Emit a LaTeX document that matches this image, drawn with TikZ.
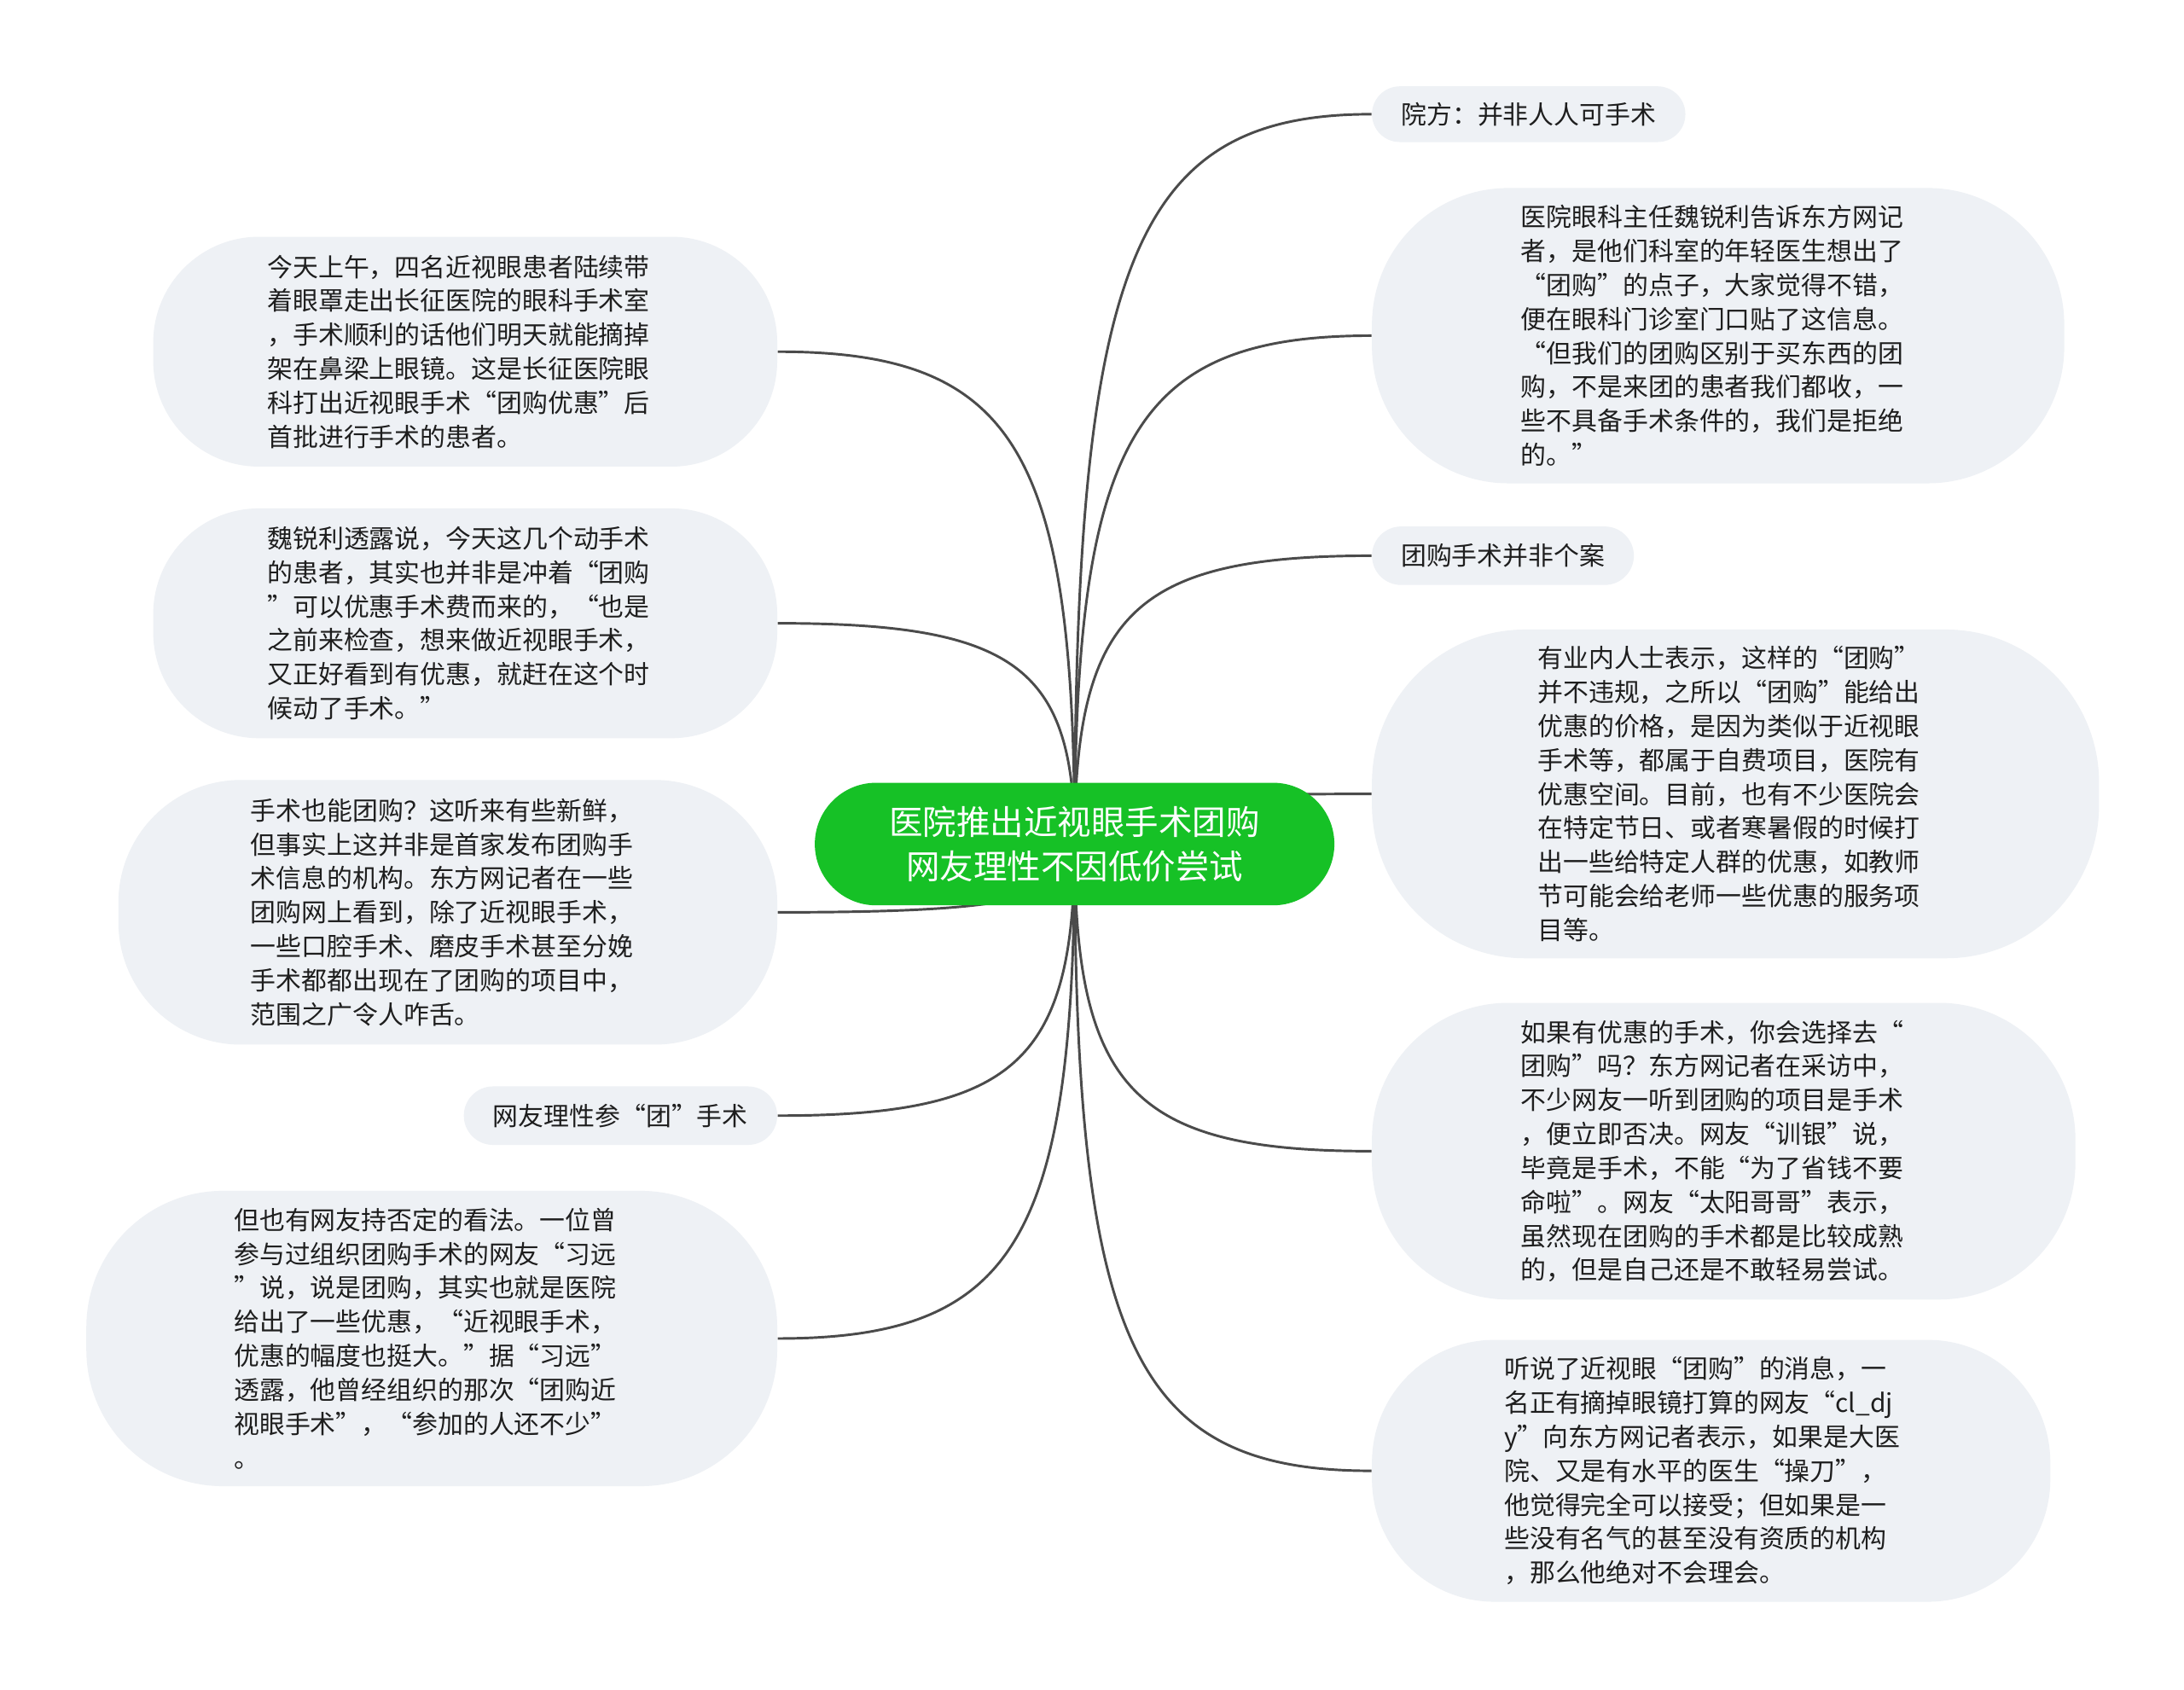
\documentclass[tikz,border=0pt]{standalone}
\usepackage{fontspec}
\newfontfamily\cjk{Noto Sans CJK SC}
\usetikzlibrary{calc}
\pgfdeclarelayer{bg}
\pgfdeclarelayer{paper}
\pgfsetlayers{paper,bg,main}
\definecolor{nodefill}{RGB}{238,241,245}
\definecolor{rootgreen}{RGB}{22,193,38}
\definecolor{linegray}{RGB}{75,75,75}
\definecolor{txt}{RGB}{30,30,30}
\begin{document}
\begin{tikzpicture}[x=0.5pt,y=-0.5pt,
  leaf/.style={fill=nodefill, draw=none, inner sep=0pt, text=txt, align=left,
    font=\cjk\fontsize{9.15}{12.2}\selectfont},
  bigleaf/.style n args={5}{leaf, minimum width=#1, minimum height=#2,
    rounded corners=#3, inner xsep=#4, text width=#5},
  rootbox/.style={fill=rootgreen, draw=none, inner sep=0pt, text=white, align=center,
    font=\cjk\fontsize{12.1}{16}\selectfont, rounded corners=22pt,
    minimum width=186.5pt, minimum height=44pt},
  conn/.style={draw=linegray, line width=0.9pt}
]
\begin{pgfonlayer}{paper}
\fill[white] (0,0) rectangle (1568,1213);
\end{pgfonlayer}
\useasboundingbox (0,0) rectangle (1568,1213);

\node[rootbox] (root) at (771.5,606) {医院推出近视眼手术团购\\网友理性不因低价尝试};

\node[bigleaf={224pt}{82.5pt}{38pt}{41pt}{142pt}] (l1) at (334,252.5)
{今天上午，四名近视眼患者陆续带\\着眼罩走出长征医院的眼科手术室\\，手术顺利的话他们明天就能摘掉\\架在鼻梁上眼镜。这是长征医院眼\\科打出近视眼手术“团购优惠”后\\首批进行手术的患者。};

\node[bigleaf={224pt}{82.5pt}{38pt}{41pt}{142pt}] (l2) at (334,447.5)
{魏锐利透露说，今天这几个动手术\\的患者，其实也并非是冲着“团购\\”可以优惠手术费而来的，“也是\\之前来检查，想来做近视眼手术，\\又正好看到有优惠，就赶在这个时\\候动了手术。”};

\node[bigleaf={236.5pt}{95pt}{44pt}{47.5pt}{141.5pt}] (l3) at (321.5,655)
{手术也能团购？这听来有些新鲜，\\但事实上这并非是首家发布团购手\\术信息的机构。东方网记者在一些\\团购网上看到，除了近视眼手术，\\一些口腔手术、磨皮手术甚至分娩\\手术都都出现在了团购的项目中，\\范围之广令人咋舌。};

\node[leaf, minimum width=112.5pt, minimum height=21pt, rounded corners=10.5pt] (l4) at (445.5,801)
{网友理性参“团”手术};

\node[bigleaf={248pt}{106pt}{49pt}{53pt}{142pt}] (l5) at (310,961)
{但也有网友持否定的看法。一位曾\\参与过组织团购手术的网友“习远\\”说，说是团购，其实也就是医院\\给出了一些优惠，“近视眼手术，\\优惠的幅度也挺大。”据“习远”\\透露，他曾经组织的那次“团购近\\视眼手术”，“参加的人还不少”\\。};

\node[leaf, minimum width=112.5pt, minimum height=20pt, rounded corners=10pt] (r1) at (1097.5,82)
{院方：并非人人可手术};

\node[bigleaf={248.5pt}{106pt}{49pt}{53.5pt}{141.5pt}] (r2) at (1233.5,241)
{医院眼科主任魏锐利告诉东方网记\\者，是他们科室的年轻医生想出了\\“团购”的点子，大家觉得不错，\\便在眼科门诊室门口贴了这信息。\\“但我们的团购区别于买东西的团\\购，不是来团的患者我们都收，一\\些不具备手术条件的，我们是拒绝\\的。”};

\node[leaf, minimum width=94pt, minimum height=21pt, rounded corners=10.5pt] (r3) at (1079,399)
{团购手术并非个案};

\node[bigleaf={261pt}{118pt}{55pt}{59.5pt}{142pt}] (r4) at (1246,570)
{有业内人士表示，这样的“团购”\\并不违规，之所以“团购”能给出\\优惠的价格，是因为类似于近视眼\\手术等，都属于自费项目，医院有\\优惠空间。目前，也有不少医院会\\在特定节日、或者寒暑假的时候打\\出一些给特定人群的优惠，如教师\\节可能会给老师一些优惠的服务项\\目等。};

\node[bigleaf={252.5pt}{106.5pt}{49pt}{53.5pt}{145.5pt}] (r5) at (1237.5,826.5)
{如果有优惠的手术，你会选择去“\\团购”吗？东方网记者在采访中，\\不少网友一听到团购的项目是手术\\，便立即否决。网友“训银”说，\\毕竟是手术，不能“为了省钱不要\\命啦”。网友“太阳哥哥”表示，\\虽然现在团购的手术都是比较成熟\\的，但是自己还是不敢轻易尝试。};

\node[bigleaf={243.5pt}{94pt}{44pt}{47.5pt}{148.5pt}] (r6) at (1228.5,1056)
{听说了近视眼“团购”的消息，一\\名正有摘掉眼镜打算的网友“cl\_dj\\y”向东方网记者表示，如果是大医\\院、又是有水平的医生“操刀”，\\他觉得完全可以接受；但如果是一\\些没有名气的甚至没有资质的机构\\，那么他绝对不会理会。};

\begin{pgfonlayer}{bg}
\foreach \n/\a in {l1/east,l2/east,l3/east,l4/east,l5/east,r1/west,r2/west,r3/west,r4/west,r5/west,r6/west}{
  \coordinate (k) at (root.center |- \n.\a);
  \draw[conn] (root.center) .. controls ($(root.center)!0.8!(k)$) and ($(\n.\a)!0.8!(k)$) .. (\n.\a);
}
\end{pgfonlayer}
\end{tikzpicture}
\end{document}
